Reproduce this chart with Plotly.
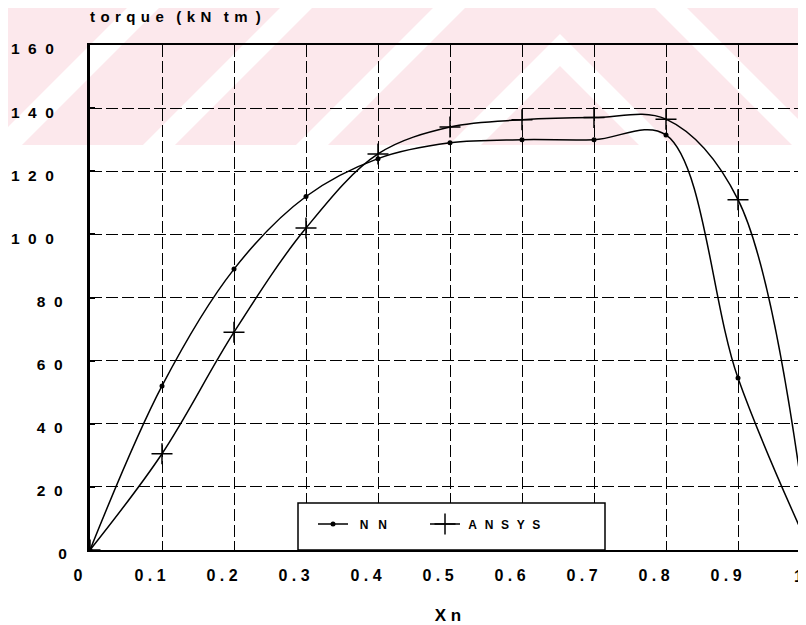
import plotly.graph_objects as go

# ---------------- data ----------------
xn = [0.0, 0.1, 0.2, 0.3, 0.4, 0.5, 0.6, 0.7, 0.8, 0.9, 1.0]
nn_torque = [0, 52, 89, 112, 124, 129, 130, 130, 131.5, 54.5, 0]
ansys_torque = [0, 30.5, 69, 102, 125.5, 134, 136.3, 137, 136.5, 111, 0]

y_ticks = [0, 20, 40, 60, 80, 100, 120, 140, 160]
x_ticks = [0.0, 0.1, 0.2, 0.3, 0.4, 0.5, 0.6, 0.7, 0.8, 0.9, 1.0]
x_labels = ["0", "0.1", "0.2", "0.3", "0.4", "0.5", "0.6", "0.7", "0.8", "0.9", "1"]

NB = "\u00a0"
HAIR = "\u200a"
FONT = "Liberation Sans, Arial, sans-serif"


def spaced(s, gap):
    return gap.join(list(s))


def ylab(v):
    s = str(v)
    return (NB * 2).join(list(s)) + NB * {1: 0, 2: 1, 3: 3}[len(s)]


# ---------------- geometry (page body has an 8px margin) ----------------
BODY = 8
W, H = 806 - BODY, 625 - BODY
ML, MR, MT = 90 - BODY, 0, 45 - BODY
PW, PH = W - ML - MR, 505
MB = H - MT - PH
X_PER_UNIT = 720.0
XMAX = PW / X_PER_UNIT


def px(X):  # reference pixel x -> paper
    return (X - 90) / PW


def py(Y):  # reference pixel y -> paper
    return (550 - Y) / PH


fig = go.Figure()

fig.add_trace(go.Scatter(
    x=xn, y=nn_torque, name=NB * 2 + spaced("NN", NB * 3), mode="lines+markers",
    line=dict(color="black", width=1.5, shape="spline", smoothing=1.0),
    marker=dict(symbol="circle", size=5, color="black"),
    legend="legend", showlegend=True,
))
fig.add_trace(go.Scatter(
    x=xn, y=ansys_torque, name=NB + spaced("ANSYS", NB * 2 + HAIR), mode="lines+markers",
    line=dict(color="black", width=1.5, shape="spline", smoothing=1.0),
    marker=dict(symbol="cross-thin", size=15, color="black",
                line=dict(color="black", width=1.5)),
    legend="legend2", showlegend=True,
))

# ---------------- watermark (faint pink chevron band) ----------------
shapes = []
PINK = "rgb(252,232,236)"
shapes.append(dict(type="rect", xref="paper", yref="paper",
                   x0=px(0), x1=px(806), y0=py(0), y1=py(145),
                   fillcolor=PINK, line=dict(width=0), layer="below"))
cx, L, hw = 560, 1200, 16
for k in range(0, 5):
    v = 50 - 153 * k
    pts = [(cx - L, v - hw + L), (cx, v - hw), (cx + L, v - hw + L),
           (cx + L, v + hw + L), (cx, v + hw), (cx - L, v + hw + L)]
    path = "M" + " L".join(f"{px(a):.5f},{py(b):.5f}" for a, b in pts) + " Z"
    shapes.append(dict(type="path", xref="paper", yref="paper", path=path,
                       fillcolor="white", line=dict(width=0), layer="below"))

# legend frame
shapes.append(dict(type="rect", xref="paper", yref="paper",
                   x0=px(298), x1=px(605), y0=0, y1=py(503),
                   fillcolor="white", line=dict(color="black", width=1.5),
                   layer="above"))

leg_font = dict(family=FONT, size=12, color="black", weight="bold")
title_gap = NB + HAIR
tick_font_x = dict(family=FONT, size=16, color="black", weight="bold")

# the last x tick ("1") sits just past the visible plot edge; show its label
last_tick = x_ticks[-1]
annotations = [dict(
    text=x_labels[-1], xref="x domain", yref="paper",
    x=last_tick / XMAX, y=0, xanchor="center", yanchor="top",
    xshift=-12, yshift=-16, showarrow=False, font=tick_font_x,
)]

fig.update_layout(
    width=W, height=H,
    margin=dict(l=ML, r=MR, t=MT, b=MB, autoexpand=False),
    paper_bgcolor="white",
    plot_bgcolor="rgba(0,0,0,0)",
    showlegend=True,
    shapes=shapes,
    annotations=annotations,
    title=dict(
        text=spaced("torque", title_gap) + NB * 3 + spaced("(kN", title_gap)
        + NB * 3 + spaced("tm", title_gap) + NB * 2 + ")",
        x=0, xref="paper", xanchor="left",
        y=1 - (17 - BODY) / H, yref="container", yanchor="middle",
        font=dict(family=FONT, size=15, color="black", weight="bold"),
    ),
    legend=dict(x=px(313), y=py(524), xanchor="left", yanchor="middle",
                bgcolor="rgba(0,0,0,0)", borderwidth=0, font=leg_font,
                orientation="h"),
    legend2=dict(x=px(425), y=py(524), xanchor="left", yanchor="middle",
                 bgcolor="rgba(0,0,0,0)", borderwidth=0, font=leg_font,
                 orientation="h"),
    xaxis=dict(
        range=[0, XMAX], tickvals=x_ticks,
        ticktext=[spaced(t, NB) for t in x_labels],
        tickfont=tick_font_x,
        ticks="", ticklabelshift=-12, ticklabelstandoff=10,
        showgrid=True, gridcolor="black", gridwidth=1.2, griddash="12px,4px",
        showline=True, linecolor="black", linewidth=2, mirror=True,
        zeroline=False, automargin=False,
        title=dict(text="X" + NB + "n", standoff=26,
                   font=dict(family=FONT, size=17, color="black", weight="bold")),
    ),
    yaxis=dict(
        range=[0, 160], tickvals=y_ticks,
        ticktext=[ylab(v) for v in y_ticks],
        tickfont=dict(family=FONT, size=15.5, color="black", weight="bold"),
        ticks="inside", ticklen=5, tickwidth=1.5, tickcolor="black",
        ticklabelshift=4, ticklabelstandoff=17,
        showgrid=True, gridcolor="black", gridwidth=1.2, griddash="12px,4px",
        showline=True, linecolor="black", linewidth=3, mirror=False,
        zeroline=False, automargin=False,
    ),
)

fig.write_html("out.html")
